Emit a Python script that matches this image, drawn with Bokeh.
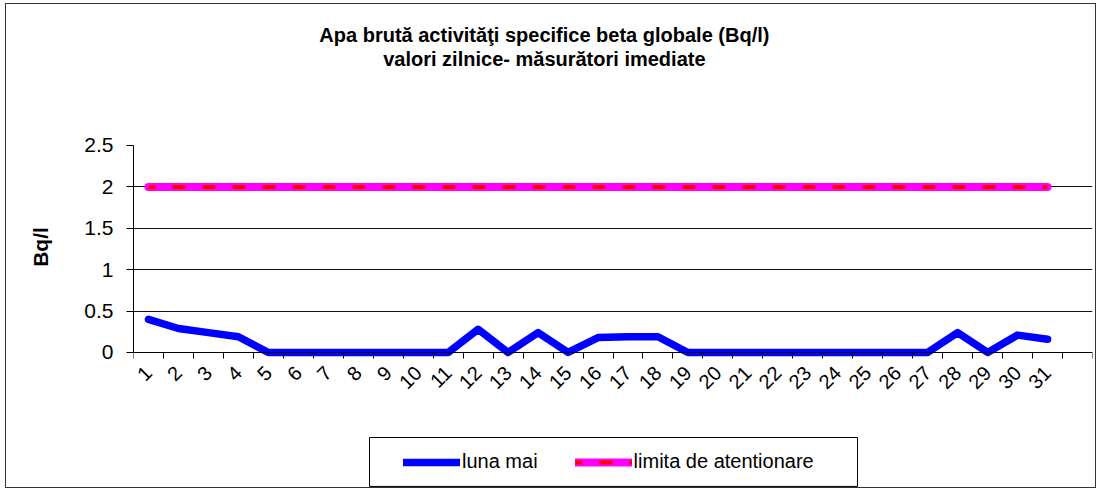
from math import pi
from bokeh.plotting import figure
from bokeh.models import Range1d, FixedTicker, Legend, LegendItem, Label, BoxAnnotation
from bokeh.embed import file_html
from bokeh.resources import INLINE

# ---- data ----
days = list(range(1, 32))
luna_mai = [0.40, 0.29, 0.24, 0.19, 0, 0, 0, 0, 0, 0, 0, 0.28, 0, 0.24, 0,
            0.18, 0.19, 0.19, 0, 0, 0, 0, 0, 0, 0, 0, 0, 0.24, 0, 0.21, 0.16]
limita = [2, 2, 2, 2, 2, 2, 2, 2, 2, 2, 2, 2, 2, 2, 2, 2,
          2, 2, 2, 2, 2, 2, 2, 2, 2, 2, 2, 2, 2, 2, 2]
y_ticks = [0, 0.5, 1, 1.5, 2, 2.5]
y_tick_labels = ["0", "0.5", "1", "1.5", "2", "2.5"]
x_tick_labels = [str(d) for d in days]
title_lines = ["Apa brută activităţi specifice beta globale (Bq/l)",
               "valori zilnice- măsurători imediate"]
y_label = "Bq/l"
series_names = ["luna mai", "limita de atentionare"]

FONT = "Liberation Sans"

# frame spans the whole chart height so title and legend sit inside it;
# the value axis itself is bounded to 0..2.5
p = figure(width=1091, height=485, output_backend="svg", toolbar_location=None,
           x_range=Range1d(0.5, len(days) + 1.5), y_range=Range1d(-1.655, 4.203),
           min_border_left=127, min_border_right=5, min_border_top=0,
           min_border_bottom=0, background_fill_color="white",
           border_fill_color="white", outline_line_color=None, title=None,
           styles={"border": "1px solid #333", "margin-left": "5px",
                   "margin-top": "3px"})

# grid
p.xgrid.visible = False
p.ygrid.ticker = FixedTicker(ticks=y_ticks[1:-1])
p.ygrid.grid_line_color = "#111111"
p.ygrid.grid_line_width = 1

# y axis
ya = p.yaxis[0]
ya.bounds = (y_ticks[0], y_ticks[-1])
ya.ticker = FixedTicker(ticks=y_ticks)
ya.major_label_overrides = {t: l for t, l in zip(y_ticks, y_tick_labels)}
ya.axis_line_color = "#000000"
ya.major_tick_line_color = "#000000"
ya.major_tick_in = 0
ya.major_tick_out = 7
ya.minor_tick_line_color = None
ya.major_label_standoff = 13
ya.major_label_text_font = FONT
ya.major_label_text_font_size = "21px"
ya.major_label_text_color = "#000000"
ya.axis_label = y_label
ya.axis_label_text_font = FONT
ya.axis_label_text_font_size = "21px"
ya.axis_label_text_font_style = "bold"
ya.axis_label_text_color = "#000000"
ya.axis_label_standoff = 29

# x axis, drawn at y = 0
xa = p.xaxis[0]
xa.fixed_location = 0
xa.ticker = FixedTicker(ticks=days, minor_ticks=[d - 0.5 for d in range(1, len(days) + 3)])
xa.major_label_overrides = {d: l for d, l in zip(days, x_tick_labels)}
xa.axis_line_color = "#000000"
xa.major_tick_line_color = None
xa.major_tick_in = 0
xa.major_tick_out = 0
xa.minor_tick_line_color = "#000000"
xa.minor_tick_in = 0
xa.minor_tick_out = 6
xa.major_label_orientation = pi / 4
xa.major_label_standoff = 11
xa.major_label_text_font = FONT
xa.major_label_text_font_size = "20px"
xa.major_label_text_color = "#000000"

# series
r_blue = p.line(days, luna_mai, line_color="#0000ff", line_width=7.5,
                line_join="round", line_cap="round")
r_pink = p.line(days, limita, line_color="#ff00ff", line_width=8, line_cap="round")
r_red = p.line(days, limita, line_color="#ff0000", line_width=4,
               line_dash="13 17", line_dash_offset=6)

# legend box and legend
p.add_layout(BoxAnnotation(left=8.375, right=24.66, top=-1.027, bottom=-1.618,
                           fill_color="white", fill_alpha=1,
                           line_color="#000000", line_alpha=1, line_width=1))
legend = Legend(items=[LegendItem(label=series_names[0], renderers=[r_blue]),
                       LegendItem(label=series_names[1], renderers=[r_pink, r_red])],
                location=(270, 16), orientation="horizontal",
                border_line_color=None, background_fill_alpha=0,
                padding=0, margin=0,
                spacing=37, glyph_width=57, glyph_height=20, label_standoff=2,
                label_text_font=FONT, label_text_font_size="20px",
                label_text_color="#000000")
p.add_layout(legend)

# title
for txt, ypos in zip(title_lines, [3.83, 3.55]):
    p.add_layout(Label(x=14.21, y=ypos, text=txt, text_align="center",
                       text_baseline="middle", text_font=FONT,
                       text_font_size="20px", text_font_style="bold",
                       text_color="#000000"))

open("out.html", "w").write(file_html(p, INLINE))
